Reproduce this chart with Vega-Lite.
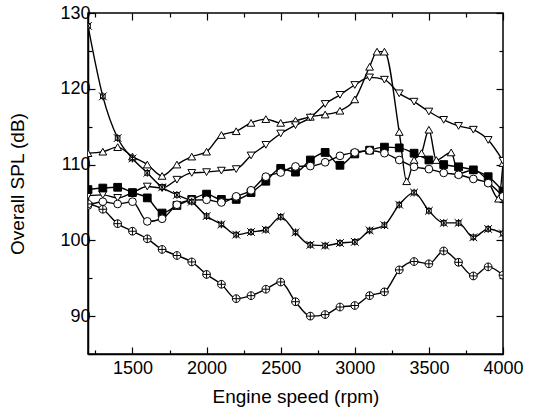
{
  "$schema": "https://vega.github.io/schema/vega-lite/v6.json",
  "width": 415,
  "height": 341,
  "autosize": "none",
  "padding": {"left": 88, "top": 13, "right": 30, "bottom": 64},
  "background": "white",
  "config": {
    "font": "Liberation Sans",
    "view": {"stroke": "black", "strokeWidth": 1.5},
    "axis": {"grid": false, "domain": true, "domainColor": "black", "tickColor": "black", "labelColor": "black", "titleColor": "black", "labelFont": "Liberation Sans", "titleFont": "Liberation Sans", "labelFontSize": 18, "titleFontSize": 19, "titleFontWeight": "normal", "domainWidth": 1.5, "tickWidth": 1.2}
  },
  "datasets": {
    "pts": [
      {"rpm": 1200, "s": "A", "spl": 111.5}, {"rpm": 1300, "s": "A", "spl": 111.7}, {"rpm": 1400, "s": "A", "spl": 112.3}, {"rpm": 1500, "s": "A", "spl": 111.05}, {"rpm": 1600, "s": "A", "spl": 110.0}, {"rpm": 1700, "s": "A", "spl": 108.5}, {"rpm": 1800, "s": "A", "spl": 110.0}, {"rpm": 1900, "s": "A", "spl": 111.05}, {"rpm": 2000, "s": "A", "spl": 111.7}, {"rpm": 2100, "s": "A", "spl": 113.9}, {"rpm": 2200, "s": "A", "spl": 114.4}, {"rpm": 2300, "s": "A", "spl": 115.5}, {"rpm": 2400, "s": "A", "spl": 116.0}, {"rpm": 2500, "s": "A", "spl": 115.5}, {"rpm": 2600, "s": "A", "spl": 115.8}, {"rpm": 2700, "s": "A", "spl": 116.3}, {"rpm": 2800, "s": "A", "spl": 116.6}, {"rpm": 2900, "s": "A", "spl": 117.1}, {"rpm": 3000, "s": "A", "spl": 118.6}, {"rpm": 3100, "s": "A", "spl": 122.9}, {"rpm": 3150, "s": "A", "spl": 124.9}, {"rpm": 3200, "s": "A", "spl": 124.9}, {"rpm": 3300, "s": "A", "spl": 114.3}, {"rpm": 3350, "s": "A", "spl": 107.8}, {"rpm": 3400, "s": "A", "spl": 110.6}, {"rpm": 3450, "s": "A", "spl": 111.5}, {"rpm": 3500, "s": "A", "spl": 114.6}, {"rpm": 3550, "s": "A", "spl": 110.6}, {"rpm": 3650, "s": "A", "spl": 111.6}, {"rpm": 3700, "s": "A", "spl": 108.8}, {"rpm": 3800, "s": "A", "spl": 109.3}, {"rpm": 3900, "s": "A", "spl": 107.75}, {"rpm": 3970, "s": "A", "spl": 105.5}, {"rpm": 4000, "s": "A", "spl": 110.2},
      {"rpm": 1200, "s": "B", "spl": 105.9}, {"rpm": 1300, "s": "B", "spl": 106.0}, {"rpm": 1400, "s": "B", "spl": 105.6}, {"rpm": 1500, "s": "B", "spl": 106.3}, {"rpm": 1600, "s": "B", "spl": 107.1}, {"rpm": 1700, "s": "B", "spl": 106.9}, {"rpm": 1800, "s": "B", "spl": 108.0}, {"rpm": 1900, "s": "B", "spl": 108.9}, {"rpm": 2000, "s": "B", "spl": 109.0}, {"rpm": 2100, "s": "B", "spl": 109.2}, {"rpm": 2200, "s": "B", "spl": 109.4}, {"rpm": 2300, "s": "B", "spl": 111.2}, {"rpm": 2400, "s": "B", "spl": 112.6}, {"rpm": 2500, "s": "B", "spl": 114.1}, {"rpm": 2600, "s": "B", "spl": 115.2}, {"rpm": 2700, "s": "B", "spl": 116.2}, {"rpm": 2800, "s": "B", "spl": 118.0}, {"rpm": 2900, "s": "B", "spl": 119.2}, {"rpm": 3000, "s": "B", "spl": 120.5}, {"rpm": 3100, "s": "B", "spl": 121.5}, {"rpm": 3200, "s": "B", "spl": 121.2}, {"rpm": 3300, "s": "B", "spl": 119.4}, {"rpm": 3400, "s": "B", "spl": 118.3}, {"rpm": 3500, "s": "B", "spl": 117.0}, {"rpm": 3600, "s": "B", "spl": 115.9}, {"rpm": 3700, "s": "B", "spl": 115.1}, {"rpm": 3800, "s": "B", "spl": 114.6}, {"rpm": 3900, "s": "B", "spl": 113.25}, {"rpm": 4000, "s": "B", "spl": 110.5},
      {"rpm": 1200, "s": "C", "spl": 106.7}, {"rpm": 1300, "s": "C", "spl": 106.9}, {"rpm": 1400, "s": "C", "spl": 107.0}, {"rpm": 1500, "s": "C", "spl": 106.3}, {"rpm": 1600, "s": "C", "spl": 105.6}, {"rpm": 1700, "s": "C", "spl": 103.6}, {"rpm": 1800, "s": "C", "spl": 104.6}, {"rpm": 1900, "s": "C", "spl": 105.4}, {"rpm": 2000, "s": "C", "spl": 106.1}, {"rpm": 2100, "s": "C", "spl": 105.4}, {"rpm": 2200, "s": "C", "spl": 105.4}, {"rpm": 2300, "s": "C", "spl": 106.3}, {"rpm": 2400, "s": "C", "spl": 107.8}, {"rpm": 2500, "s": "C", "spl": 109.5}, {"rpm": 2600, "s": "C", "spl": 109.0}, {"rpm": 2700, "s": "C", "spl": 110.6}, {"rpm": 2800, "s": "C", "spl": 111.6}, {"rpm": 2900, "s": "C", "spl": 109.9}, {"rpm": 3000, "s": "C", "spl": 111.4}, {"rpm": 3100, "s": "C", "spl": 111.9}, {"rpm": 3200, "s": "C", "spl": 112.3}, {"rpm": 3300, "s": "C", "spl": 112.2}, {"rpm": 3400, "s": "C", "spl": 111.5}, {"rpm": 3500, "s": "C", "spl": 110.6}, {"rpm": 3600, "s": "C", "spl": 110.0}, {"rpm": 3700, "s": "C", "spl": 109.7}, {"rpm": 3800, "s": "C", "spl": 109.3}, {"rpm": 3900, "s": "C", "spl": 108.4}, {"rpm": 4000, "s": "C", "spl": 106.5},
      {"rpm": 1200, "s": "D", "spl": 104.6}, {"rpm": 1300, "s": "D", "spl": 105.1}, {"rpm": 1400, "s": "D", "spl": 104.8}, {"rpm": 1500, "s": "D", "spl": 105.1}, {"rpm": 1600, "s": "D", "spl": 102.5}, {"rpm": 1700, "s": "D", "spl": 102.85}, {"rpm": 1800, "s": "D", "spl": 104.7}, {"rpm": 1900, "s": "D", "spl": 105.3}, {"rpm": 2000, "s": "D", "spl": 105.35}, {"rpm": 2100, "s": "D", "spl": 105.0}, {"rpm": 2200, "s": "D", "spl": 105.8}, {"rpm": 2300, "s": "D", "spl": 106.6}, {"rpm": 2400, "s": "D", "spl": 108.4}, {"rpm": 2500, "s": "D", "spl": 108.95}, {"rpm": 2600, "s": "D", "spl": 109.75}, {"rpm": 2700, "s": "D", "spl": 109.8}, {"rpm": 2800, "s": "D", "spl": 110.3}, {"rpm": 2900, "s": "D", "spl": 111.15}, {"rpm": 3000, "s": "D", "spl": 111.6}, {"rpm": 3100, "s": "D", "spl": 111.85}, {"rpm": 3200, "s": "D", "spl": 111.5}, {"rpm": 3300, "s": "D", "spl": 110.6}, {"rpm": 3400, "s": "D", "spl": 109.7}, {"rpm": 3500, "s": "D", "spl": 109.4}, {"rpm": 3600, "s": "D", "spl": 108.9}, {"rpm": 3700, "s": "D", "spl": 108.65}, {"rpm": 3800, "s": "D", "spl": 108.1}, {"rpm": 3900, "s": "D", "spl": 107.55}, {"rpm": 4000, "s": "D", "spl": 105.8},
      {"rpm": 1200, "s": "E", "spl": 128.3}, {"rpm": 1300, "s": "E", "spl": 119.0}, {"rpm": 1400, "s": "E", "spl": 113.5}, {"rpm": 1500, "s": "E", "spl": 110.8}, {"rpm": 1600, "s": "E", "spl": 108.9}, {"rpm": 1700, "s": "E", "spl": 107.0}, {"rpm": 1800, "s": "E", "spl": 106.0}, {"rpm": 1900, "s": "E", "spl": 105.1}, {"rpm": 2000, "s": "E", "spl": 103.2}, {"rpm": 2100, "s": "E", "spl": 102.1}, {"rpm": 2200, "s": "E", "spl": 100.75}, {"rpm": 2300, "s": "E", "spl": 101.1}, {"rpm": 2400, "s": "E", "spl": 101.4}, {"rpm": 2500, "s": "E", "spl": 103.1}, {"rpm": 2600, "s": "E", "spl": 101.05}, {"rpm": 2700, "s": "E", "spl": 99.4}, {"rpm": 2800, "s": "E", "spl": 99.3}, {"rpm": 2900, "s": "E", "spl": 99.65}, {"rpm": 3000, "s": "E", "spl": 99.8}, {"rpm": 3100, "s": "E", "spl": 101.3}, {"rpm": 3200, "s": "E", "spl": 102.0}, {"rpm": 3300, "s": "E", "spl": 104.7}, {"rpm": 3400, "s": "E", "spl": 106.3}, {"rpm": 3500, "s": "E", "spl": 103.9}, {"rpm": 3600, "s": "E", "spl": 102.3}, {"rpm": 3700, "s": "E", "spl": 102.3}, {"rpm": 3800, "s": "E", "spl": 100.4}, {"rpm": 3900, "s": "E", "spl": 101.5}, {"rpm": 4000, "s": "E", "spl": 100.9},
      {"rpm": 1200, "s": "F", "spl": 104.8}, {"rpm": 1300, "s": "F", "spl": 104.1}, {"rpm": 1400, "s": "F", "spl": 102.2}, {"rpm": 1500, "s": "F", "spl": 101.2}, {"rpm": 1600, "s": "F", "spl": 100.2}, {"rpm": 1700, "s": "F", "spl": 98.8}, {"rpm": 1800, "s": "F", "spl": 98.0}, {"rpm": 1900, "s": "F", "spl": 97.15}, {"rpm": 2000, "s": "F", "spl": 95.5}, {"rpm": 2100, "s": "F", "spl": 94.2}, {"rpm": 2200, "s": "F", "spl": 92.3}, {"rpm": 2300, "s": "F", "spl": 92.7}, {"rpm": 2400, "s": "F", "spl": 93.55}, {"rpm": 2500, "s": "F", "spl": 94.5}, {"rpm": 2600, "s": "F", "spl": 91.9}, {"rpm": 2700, "s": "F", "spl": 90.0}, {"rpm": 2800, "s": "F", "spl": 90.2}, {"rpm": 2900, "s": "F", "spl": 91.2}, {"rpm": 3000, "s": "F", "spl": 91.4}, {"rpm": 3100, "s": "F", "spl": 92.7}, {"rpm": 3200, "s": "F", "spl": 93.2}, {"rpm": 3300, "s": "F", "spl": 96.1}, {"rpm": 3400, "s": "F", "spl": 97.2}, {"rpm": 3500, "s": "F", "spl": 96.9}, {"rpm": 3600, "s": "F", "spl": 98.6}, {"rpm": 3700, "s": "F", "spl": 97.1}, {"rpm": 3800, "s": "F", "spl": 95.3}, {"rpm": 3900, "s": "F", "spl": 96.5}, {"rpm": 4000, "s": "F", "spl": 95.4}
    ]
  },
  "data": {"name": "pts"},
  "resolve": {"axis": {"x": "independent", "y": "independent"}},
  "layer": [
    {"mark": {"type": "line", "interpolate": "monotone", "color": "black", "strokeWidth": 1.4, "clip": true},
      "encoding": {
        "x": {"field": "rpm", "type": "quantitative", "scale": {"domain": [1200, 4000], "nice": false, "zero": false},
          "axis": {"values": [1250, 1500, 1750, 2000, 2250, 2500, 2750, 3000, 3250, 3500, 3750, 4000], "format": "d", "labelExpr": "datum.value % 500 === 0 ? datum.label : ''", "title": "Engine speed (rpm)", "labelPadding": 12, "titlePadding": 10, "labelFlush": false, "tickSize": {"condition": {"test": "datum.value % 500 === 0", "value": -7}, "value": -4}}},
        "y": {"field": "spl", "type": "quantitative", "scale": {"domain": [85, 130], "nice": false, "zero": false},
          "axis": {"values": [85, 90, 95, 100, 105, 110, 115, 120, 125, 130], "format": "d", "labelExpr": "datum.value % 10 === 0 ? datum.label : ''", "title": "Overall SPL (dB)", "labelPadding": 5, "titlePadding": 32, "labelFlush": false, "tickSize": {"condition": {"test": "datum.value % 10 === 0", "value": -7}, "value": -4}}},
        "detail": {"field": "s"}
      }},
    {"mark": {"type": "point", "stroke": "black", "strokeWidth": 1, "opacity": 1, "size": 60, "clip": true},
      "encoding": {
        "x": {"field": "rpm", "type": "quantitative",
          "axis": {"orient": "top", "values": [1250, 1500, 1750, 2000, 2250, 2500, 2750, 3000, 3250, 3500, 3750, 4000], "labels": false, "title": null, "domain": false, "tickSize": {"condition": {"test": "datum.value % 500 === 0", "value": -7}, "value": -4}}},
        "y": {"field": "spl", "type": "quantitative",
          "axis": {"orient": "right", "values": [85, 90, 95, 100, 105, 110, 115, 120, 125, 130], "labels": false, "title": null, "domain": false, "tickSize": {"condition": {"test": "datum.value % 10 === 0", "value": -7}, "value": -4}}},
        "shape": {"field": "s", "legend": null, "scale": {"domain": ["A", "B", "C", "D", "E", "F"], "range": ["triangle-up", "triangle-down", "square", "circle", "M-1,-1L1,1M-1,1L1,-1M0,-1L0,1M-0.6,-0.6L0.6,-0.6L0.6,0.6L-0.6,0.6Z", "M-1,0A1,1 0 1,1 1,0A1,1 0 1,1 -1,0ZM-1,0L1,0M0,-1L0,1"]}},
        "fill": {"field": "s", "legend": null, "scale": {"domain": ["A", "B", "C", "D", "E", "F"], "range": ["white", "white", "black", "white", "white", "white"]}}
      }}
  ]
}
